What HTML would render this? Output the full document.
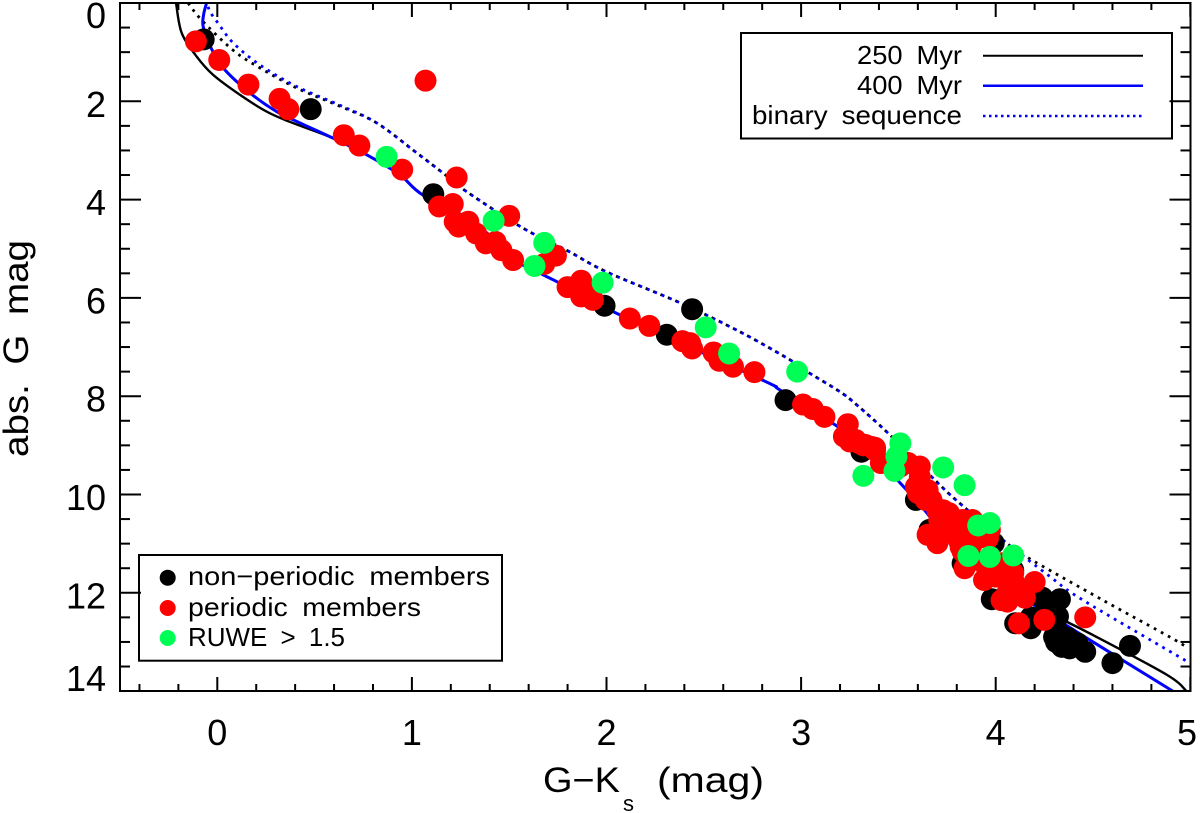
<!DOCTYPE html>
<html>
<head>
<meta charset="utf-8">
<style>
html,body{margin:0;padding:0;background:#fff;width:1200px;height:813px;overflow:hidden}
svg{display:block}
text{font-family:"Liberation Sans",sans-serif;fill:#000}
</style>
</head>
<body>
<svg id="chart" xmlns="http://www.w3.org/2000/svg" width="1200" height="813" viewBox="0 0 1200 813">
<g id="curves"></g>
<g id="points"></g>
<g id="axes"></g>
<g>
<rect x="741" y="33" width="431" height="105.500" fill="none" stroke="#000" stroke-width="2"/>
<text x="857" y="64" font-size="26" word-spacing="6" textLength="105" lengthAdjust="spacingAndGlyphs">250 Myr</text>
<text x="857" y="94" font-size="26" word-spacing="6" textLength="105" lengthAdjust="spacingAndGlyphs">400 Myr</text>
<text x="752" y="124" font-size="26" word-spacing="6" textLength="210" lengthAdjust="spacingAndGlyphs">binary sequence</text>
<line x1="983" y1="55.700" x2="1143" y2="55.700" stroke="#000" stroke-width="2"/>
<line x1="983" y1="85.700" x2="1143" y2="85.700" stroke="#0000ff" stroke-width="2.500"/>
<line x1="983" y1="116" x2="1143" y2="116" stroke="#0000ff" stroke-width="2.500" stroke-dasharray="2.500 3.500"/>
</g>
<g>
<rect x="139" y="555" width="363" height="105.700" fill="none" stroke="#000" stroke-width="2"/>
<circle cx="167.700" cy="577.700" r="8" fill="#000"/>
<circle cx="167.700" cy="608" r="8" fill="#ff0000"/>
<circle cx="167.700" cy="638" r="8" fill="#00ff55"/>
<text x="188" y="585" font-size="26" word-spacing="6" textLength="302" lengthAdjust="spacingAndGlyphs">non−periodic members</text>
<text x="188" y="616" font-size="26" word-spacing="6" textLength="233" lengthAdjust="spacingAndGlyphs">periodic members</text>
<text x="188" y="646" font-size="26" word-spacing="6" textLength="157" lengthAdjust="spacingAndGlyphs">RUWE &gt; 1.5</text>
</g>
<text transform="translate(28,457) rotate(-90)" font-size="35" word-spacing="8" textLength="217" lengthAdjust="spacingAndGlyphs">abs. G mag</text>
<text x="543" y="792" font-size="35" textLength="77" lengthAdjust="spacingAndGlyphs">G−K</text>
<text x="623" y="811" font-size="22">s</text>
<text x="657" y="792" font-size="35" textLength="107" lengthAdjust="spacingAndGlyphs">(mag)</text>
</svg>
<script>
const xTicks = [0, 1, 2, 3, 4, 5];
const yTicks = [0, 2, 4, 6, 8, 10, 12, 14];

const iso250X = [-0.212,-0.183,-0.106,-0.022,0.117,0.254,0.374,0.595,0.768,0.939,1.057,1.36,1.51,1.674,1.76,2.05,2.80,2.89,3.20,3.35,3.51,3.61,3.765,4.02,4.21,4.50,4.88,4.98];
const iso250Y = [0,0.61,1.09,1.46,1.87,2.21,2.42,2.75,3.09,3.50,3.91,4.60,5.19,5.53,5.70,6.31,7.67,7.87,8.65,9.09,9.77,10.20,10.93,11.84,12.28,12.86,13.67,14.0];
const iso400X = [-0.055,-0.07,-0.073,-0.04,0.03,0.168,0.305,0.425,0.595,0.768,0.939,1.057,1.36,1.51,1.674,1.76,2.05,2.80,2.89,3.20,3.35,3.51,3.61,3.765,4.02,4.21,4.50,4.91];
const iso400Y = [0,0.23,0.47,0.85,1.32,1.83,2.21,2.44,2.75,3.09,3.50,3.91,4.60,5.19,5.53,5.70,6.31,7.67,7.87,8.65,9.09,9.77,10.20,10.93,11.84,12.28,13.0,14.0];
const binary250X = [-0.15,-0.08,0.081,0.219,0.408,0.63,0.819,1.025,1.16,1.282,1.571,1.795,2.00,2.378,2.686,2.943,3.035,3.20,3.287,3.457,3.714,3.842,4.038,4.159,4.551,4.895,4.987];
const binary250Y = [0,0.35,0.96,1.32,1.73,2.10,2.44,3.05,3.46,3.84,4.58,5.03,5.47,6.10,6.69,7.26,7.51,7.91,8.18,8.79,9.81,10.27,10.93,11.27,12.15,12.90,13.12];
const binary400X = [-0.053,-0.037,0.004,0.081,0.219,0.408,0.63,0.819,1.025,1.16,1.282,1.571,1.795,2.00,2.378,2.686,2.943,3.035,3.20,3.287,3.457,3.714,3.842,4.038,4.279,4.449,4.998];
const binary400Y = [0,0.18,0.41,0.81,1.26,1.70,2.08,2.44,3.05,3.46,3.84,4.58,5.03,5.47,6.10,6.69,7.26,7.51,7.91,8.18,8.79,9.81,10.27,10.93,11.67,12.15,13.43];

const nonPeriodicX = [-0.07,0.48,1.11,2.44,1.99,2.31,2.92,3.31,3.59,3.66,3.83,3.98,4.09,3.99,4.24,4.33,4.10,4.18,4.31,4.37,4.38,4.46,4.42,4.60,4.69,4.32,4.26,4.32,4.18,4.30,4.34];
const nonPeriodicY = [0.74,2.16,3.89,6.23,6.16,6.75,8.08,9.13,10.11,10.72,11.40,12.13,11.54,10.99,12.10,12.13,12.62,12.72,13.00,12.92,13.13,13.20,13.03,13.43,13.08,12.80,12.28,12.48,12.50,12.90,13.10];

const periodicX = [-0.11,0.01,0.16,0.32,0.365,0.65,0.73,0.95,1.07,1.23,1.14,1.21,1.22,1.24,1.29,1.33,1.38,1.43,1.46,1.52,1.50,1.74,1.68,1.80,1.87,1.87,1.93,1.90,2.12,2.22,2.39,2.43,2.44,2.55,2.58,2.65,2.76,3.01,3.06,3.12,3.24,3.24,3.28,3.33,3.38,3.30,3.36,3.41,3.51,3.55,3.61,3.61,3.59,3.60,3.65,3.67,3.70,3.71,3.76,3.83,3.65,3.70,3.76,3.81,3.88,3.96,3.83,3.84,3.94,3.94,4.03,4.09,4.00,4.06,4.03,4.06,4.15,4.20,4.12,4.25,4.46,4.07,4.14,3.82,3.97,3.80,3.73,3.64,3.88,3.88,4.09,3.89,4.02,3.22,3.25,3.32,3.38];
const periodicY = [0.78,1.16,1.66,1.95,2.16,2.69,2.90,3.39,1.58,3.55,4.14,4.09,4.45,4.55,4.45,4.69,4.89,4.86,5.03,5.23,4.33,5.14,5.31,5.78,5.65,5.97,6.04,5.84,6.42,6.57,6.88,6.92,7.03,7.11,7.28,7.40,7.51,8.17,8.26,8.42,8.57,8.79,8.89,8.99,9.10,8.96,9.03,9.36,9.43,9.36,9.43,9.64,9.84,9.97,9.91,10.11,10.32,10.52,10.38,10.52,10.82,10.99,10.72,10.93,10.86,10.89,11.16,11.50,11.74,11.40,11.40,11.60,11.67,12.00,12.15,12.18,12.10,11.78,12.62,12.55,12.50,11.84,11.94,11.07,10.72,10.66,10.32,10.11,10.52,10.99,11.74,11.33,11.43,8.82,8.92,9.00,9.05];

const ruweX = [0.87,1.42,1.68,1.63,1.98,2.51,2.63,2.98,3.51,3.49,3.48,3.32,3.73,3.84,3.91,3.97,3.86,3.97,4.09];
const ruweY = [3.13,4.43,4.88,5.35,5.69,6.60,7.13,7.50,8.96,9.23,9.52,9.62,9.45,9.81,10.63,10.58,11.25,11.27,11.24];

const NS = 'http://www.w3.org/2000/svg';
function xScale(v) { return 217.3 + 194.6 * v; }
function yScale(v) { return 3 + 49.15 * v; }

function make(tag, attrs, parent) {
  const el = document.createElementNS(NS, tag);
  for (const k in attrs) el.setAttribute(k, attrs[k]);
  parent.appendChild(el);
  return el;
}

function smoothPath(xs, ys) {
  const p = xs.map((x, i) => [xScale(x), yScale(ys[i])]);
  let d = 'M' + p[0][0].toFixed(2) + ' ' + p[0][1].toFixed(2);
  for (let i = 0; i < p.length - 1; i++) {
    const p0 = p[Math.max(i - 1, 0)], p1 = p[i], p2 = p[i + 1], p3 = p[Math.min(i + 2, p.length - 1)];
    const c1x = p1[0] + (p2[0] - p0[0]) / 6, c1y = p1[1] + (p2[1] - p0[1]) / 6;
    const c2x = p2[0] - (p3[0] - p1[0]) / 6, c2y = p2[1] - (p3[1] - p1[1]) / 6;
    d += 'C' + c1x.toFixed(2) + ' ' + c1y.toFixed(2) + ' ' + c2x.toFixed(2) + ' ' + c2y.toFixed(2) + ' ' + p2[0].toFixed(2) + ' ' + p2[1].toFixed(2);
  }
  return d;
}

const curves = document.getElementById('curves');
const points = document.getElementById('points');
const axes = document.getElementById('axes');

const curve250 = make('path', {d: smoothPath(iso250X, iso250Y), fill: 'none', stroke: '#000', 'stroke-width': 2.4}, curves);


const curveBin250 = make('path', {d: smoothPath(binary250X, binary250Y), fill: 'none', stroke: '#000', 'stroke-width': 2.8, 'stroke-dasharray': '2.8 5.2'}, curves);


const curve400 = make('path', {d: smoothPath(iso400X, iso400Y), fill: 'none', stroke: '#0000ff', 'stroke-width': 3}, curves);


const curveBin400 = make('path', {d: smoothPath(binary400X, binary400Y), fill: 'none', stroke: '#0000ff', 'stroke-width': 2.8, 'stroke-dasharray': '2.8 5.2', 'stroke-dashoffset': '4'}, curves);



nonPeriodicX.forEach((x, i) => {
  const c = make('circle', {cx: xScale(x), cy: yScale(nonPeriodicY[i]), r: 11, fill: '#000'}, points);
  
  
});
periodicX.forEach((x, i) => {
  const c = make('circle', {cx: xScale(x), cy: yScale(periodicY[i]), r: 11, fill: '#ff0000'}, points);
  
  
});
ruweX.forEach((x, i) => {
  const c = make('circle', {cx: xScale(x), cy: yScale(ruweY[i]), r: 11, fill: '#00ff55'}, points);
  
  
});

const frame = make('rect', {x: 120, y: 3, width: 1070.5, height: 688, fill: 'none', stroke: '#000', 'stroke-width': 2}, axes);



for (let i = -2; i <= 25; i++) {
  const v = i * 0.2;
  const isMajor = i % 5 === 0;
  const len = isMajor ? 14 : 7;
  const px = xScale(v);
  const b = make('line', {x1: px, y1: 691, x2: px, y2: 691 - len, stroke: '#000', 'stroke-width': 2}, axes);
  
  
  const t = make('line', {x1: px, y1: 3, x2: px, y2: 3 + len, stroke: '#000', 'stroke-width': 2}, axes);
  
  
}
for (let i = 1; i < 28; i++) {
  const v = i * 0.5;
  const isMajor = i % 4 === 0;
  const len = isMajor ? 21 : 10;
  const py = yScale(v);
  const l = make('line', {x1: 120, y1: py, x2: 120 + len, y2: py, stroke: '#000', 'stroke-width': 2}, axes);
  
  
  const r = make('line', {x1: 1190.5, y1: py, x2: 1190.5 - len, y2: py, stroke: '#000', 'stroke-width': 2}, axes);
  
  
}

xTicks.forEach((v) => {
  const t = make('text', {x: Math.min(xScale(v), 1187), y: 745, 'font-size': 36, 'text-anchor': 'middle'}, axes);
  
  
  t.textContent = v;
});
yTicks.forEach((v) => {
  const base = Math.max(28, Math.min(691, yScale(v) + 15.5));
  const t = make('text', {x: 106, y: base, 'font-size': 36, 'text-anchor': 'end'}, axes);
  
  
  t.textContent = v;
});
</script>
</body>
</html>
